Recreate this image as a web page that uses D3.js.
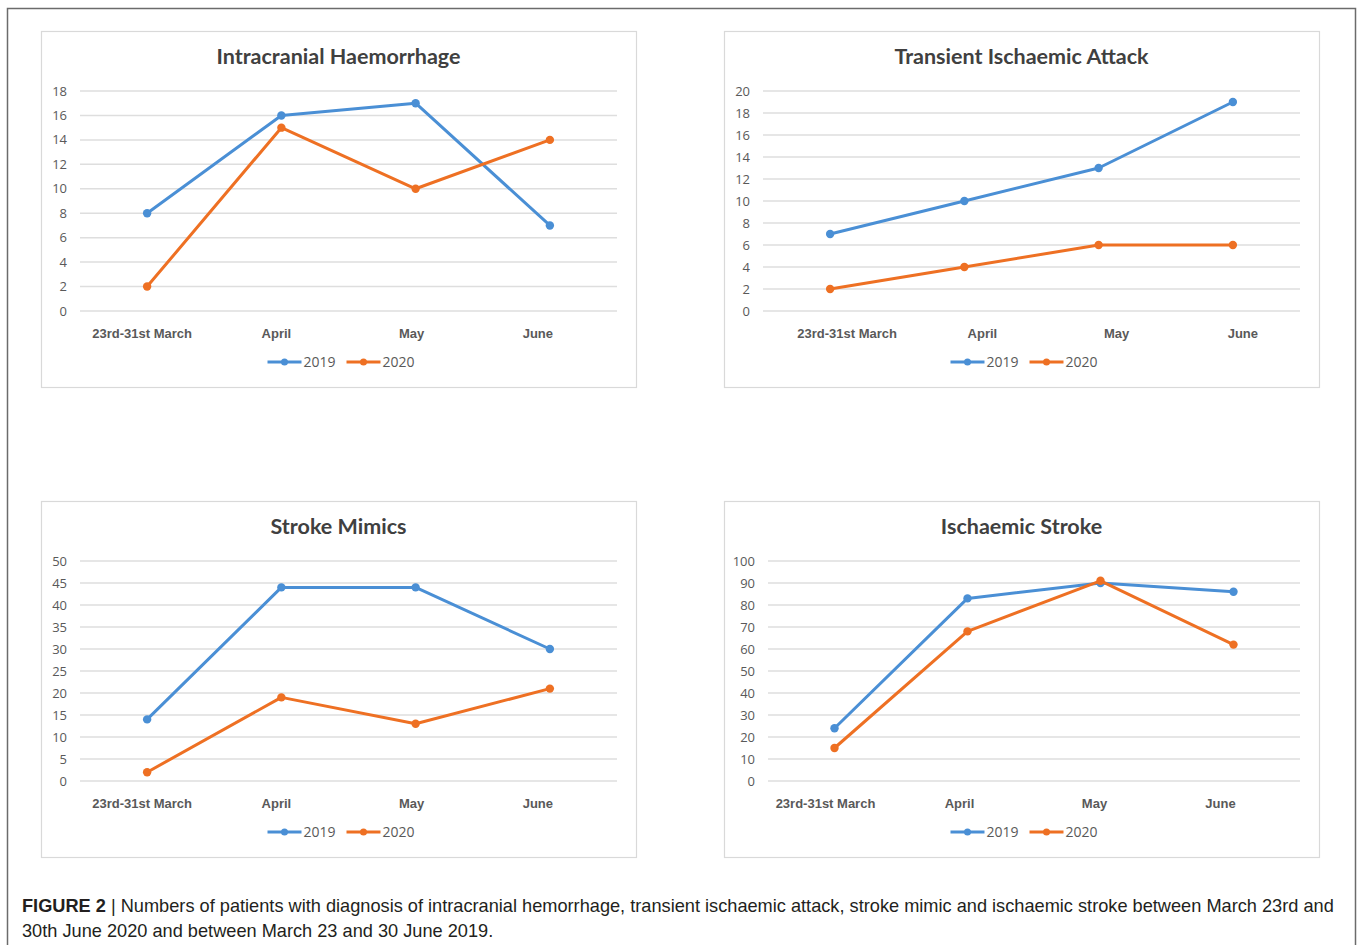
<!DOCTYPE html>
<html>
<head>
<meta charset="utf-8" />
<title>Figure 2 - patients by diagnosis, 2019 vs 2020</title>
<script src="https://cdn.jsdelivr.net/npm/d3@7"></script>
<style>
  body { margin: 0; padding: 0; background: #fff; }
  svg { display: block; }
  .panel-box { fill: #fff; stroke: #d9d9d9; stroke-width: 1.2px; }
  .title { font: bold 21.5px Lato, "Open Sans", sans-serif; fill: #404040; }
  .ytick text { font: 13px "Open Sans", sans-serif; fill: #595959; }
  .grid line { stroke: #dedede; stroke-width: 1.5px; }
  .cat { font: bold 13px "Liberation Sans", Arial, sans-serif; fill: #595959; }
  .legend text { font: 14px "Open Sans", sans-serif; fill: #595959; }
  .caption { font: 18.2px "Liberation Sans", Arial, sans-serif; fill: #231f20; }
</style>
</head>
<body>
<svg id="fig" width="1357" height="945"></svg>
<script>
// data
var categories = ["23rd-31st March", "April", "May", "June"];
var years = ["2019", "2020"];
var colors = ["#4a8fd5", "#ee7023"];

var ichTitle = "Intracranial Haemorrhage";
var ich2019 = [8, 16, 17, 7];
var ich2020 = [2, 15, 10, 14];
var ichTicks = [0, 2, 4, 6, 8, 10, 12, 14, 16, 18];

var tiaTitle = "Transient Ischaemic Attack";
var tia2019 = [7, 10, 13, 19];
var tia2020 = [2, 4, 6, 6];
var tiaTicks = [0, 2, 4, 6, 8, 10, 12, 14, 16, 18, 20];

var mimTitle = "Stroke Mimics";
var mim2019 = [14, 44, 44, 30];
var mim2020 = [2, 19, 13, 21];
var mimTicks = [0, 5, 10, 15, 20, 25, 30, 35, 40, 45, 50];

var isTitle = "Ischaemic Stroke";
var is2019 = [24, 83, 90, 86];
var is2020 = [15, 68, 91, 62];
var isTicks = [0, 10, 20, 30, 40, 50, 60, 70, 80, 90, 100];

var svg = d3.select("#fig");

// outer figure frame (open at the bottom)
svg.append("path")
    .attr("d", "M7.5,945 V8.5 H1355.5 V945")
    .attr("fill", "none")
    .attr("stroke", "#6b6b6b")
    .attr("stroke-width", 1.5);

function drawPanel(px, py, title, s2019, s2020, ticks, left, catShift) {
  var w = 595, h = 356;
  var g = svg.append("g").attr("transform", "translate(" + px + "," + py + ")");

  g.append("rect").attr("class", "panel-box")
      .attr("x", 0.5).attr("y", 0.5).attr("width", w).attr("height", h);

  g.append("text").attr("class", "title")
      .attr("x", w / 2).attr("y", 33)
      .attr("text-anchor", "middle")
      .text(title);

  var x = d3.scaleBand().domain(categories).range([left, w - 19]);
  var y = d3.scaleLinear().domain([0, ticks[ticks.length - 1]]).range([280, 60]);

  // gridlines + tick labels
  var grid = g.append("g").attr("class", "grid");
  grid.selectAll("line").data(ticks).enter().append("line")
      .attr("x1", left).attr("x2", w - 19)
      .attr("y1", function(d) { return y(d); })
      .attr("y2", function(d) { return y(d); });

  var yt = g.append("g").attr("class", "ytick");
  yt.selectAll("text").data(ticks).enter().append("text")
      .attr("x", left - 13)
      .attr("y", function(d) { return y(d); })
      .attr("dy", "0.35em")
      .attr("text-anchor", "end")
      .text(function(d) { return d; });

  // category labels (the source image is slightly skewed, so labels sit off the points)
  g.selectAll(".cat").data(categories).enter().append("text")
      .attr("class", "cat")
      .attr("x", function(d, i) { return x(d) + x.bandwidth() / 2 + catShift[i]; })
      .attr("y", 302)
      .attr("dy", "0.35em")
      .attr("text-anchor", "middle")
      .text(function(d) { return d; });

  // series
  var line = d3.line()
      .x(function(d, i) { return x(categories[i]) + x.bandwidth() / 2; })
      .y(function(d) { return y(d); });

  [s2019, s2020].forEach(function(vals, k) {
    g.append("path")
        .attr("d", line(vals))
        .attr("fill", "none")
        .attr("stroke", colors[k])
        .attr("stroke-width", 3)
        .attr("stroke-linejoin", "round");
    g.append("g").selectAll("circle").data(vals).enter().append("circle")
        .attr("cx", function(d, i) { return x(categories[i]) + x.bandwidth() / 2; })
        .attr("cy", function(d) { return y(d); })
        .attr("r", 4.2)
        .attr("fill", colors[k]);
  });

  // legend
  var lg = g.append("g").attr("class", "legend")
      .attr("transform", "translate(" + (w / 2 - 71) + ",331)");
  years.forEach(function(yr, k) {
    var ox = k * 79;
    lg.append("line")
        .attr("x1", ox).attr("x2", ox + 34)
        .attr("y1", 0).attr("y2", 0)
        .attr("stroke", colors[k]).attr("stroke-width", 3);
    lg.append("circle").attr("cx", ox + 17).attr("cy", 0).attr("r", 3.5).attr("fill", colors[k]);
    lg.append("text").attr("x", ox + 36).attr("y", 0).attr("dy", "0.35em").text(yr);
  });
}

drawPanel(41, 31, ichTitle, ich2019, ich2020, ichTicks, 39, [-5, -5, -4, -12]);
drawPanel(724, 31, tiaTitle, tia2019, tia2020, tiaTicks, 39, [17, 18, 18, 10]);
drawPanel(41, 501, mimTitle, mim2019, mim2020, mimTicks, 39, [-5, -5, -4, -12]);
drawPanel(724, 501, isTitle, is2019, is2020, isTicks, 44, [-9, -8, -6, -13]);

// caption
var cap = svg.append("text").attr("class", "caption").attr("x", 22).attr("y", 912);
cap.append("tspan").attr("font-weight", "bold").text("FIGURE 2 ");
cap.append("tspan").text("| Numbers of patients with diagnosis of intracranial hemorrhage, transient ischaemic attack, stroke mimic and ischaemic stroke between March 23rd and");
svg.append("text").attr("class", "caption").attr("x", 22).attr("y", 937)
    .text("30th June 2020 and between March 23 and 30 June 2019.");
</script>
</body>
</html>
